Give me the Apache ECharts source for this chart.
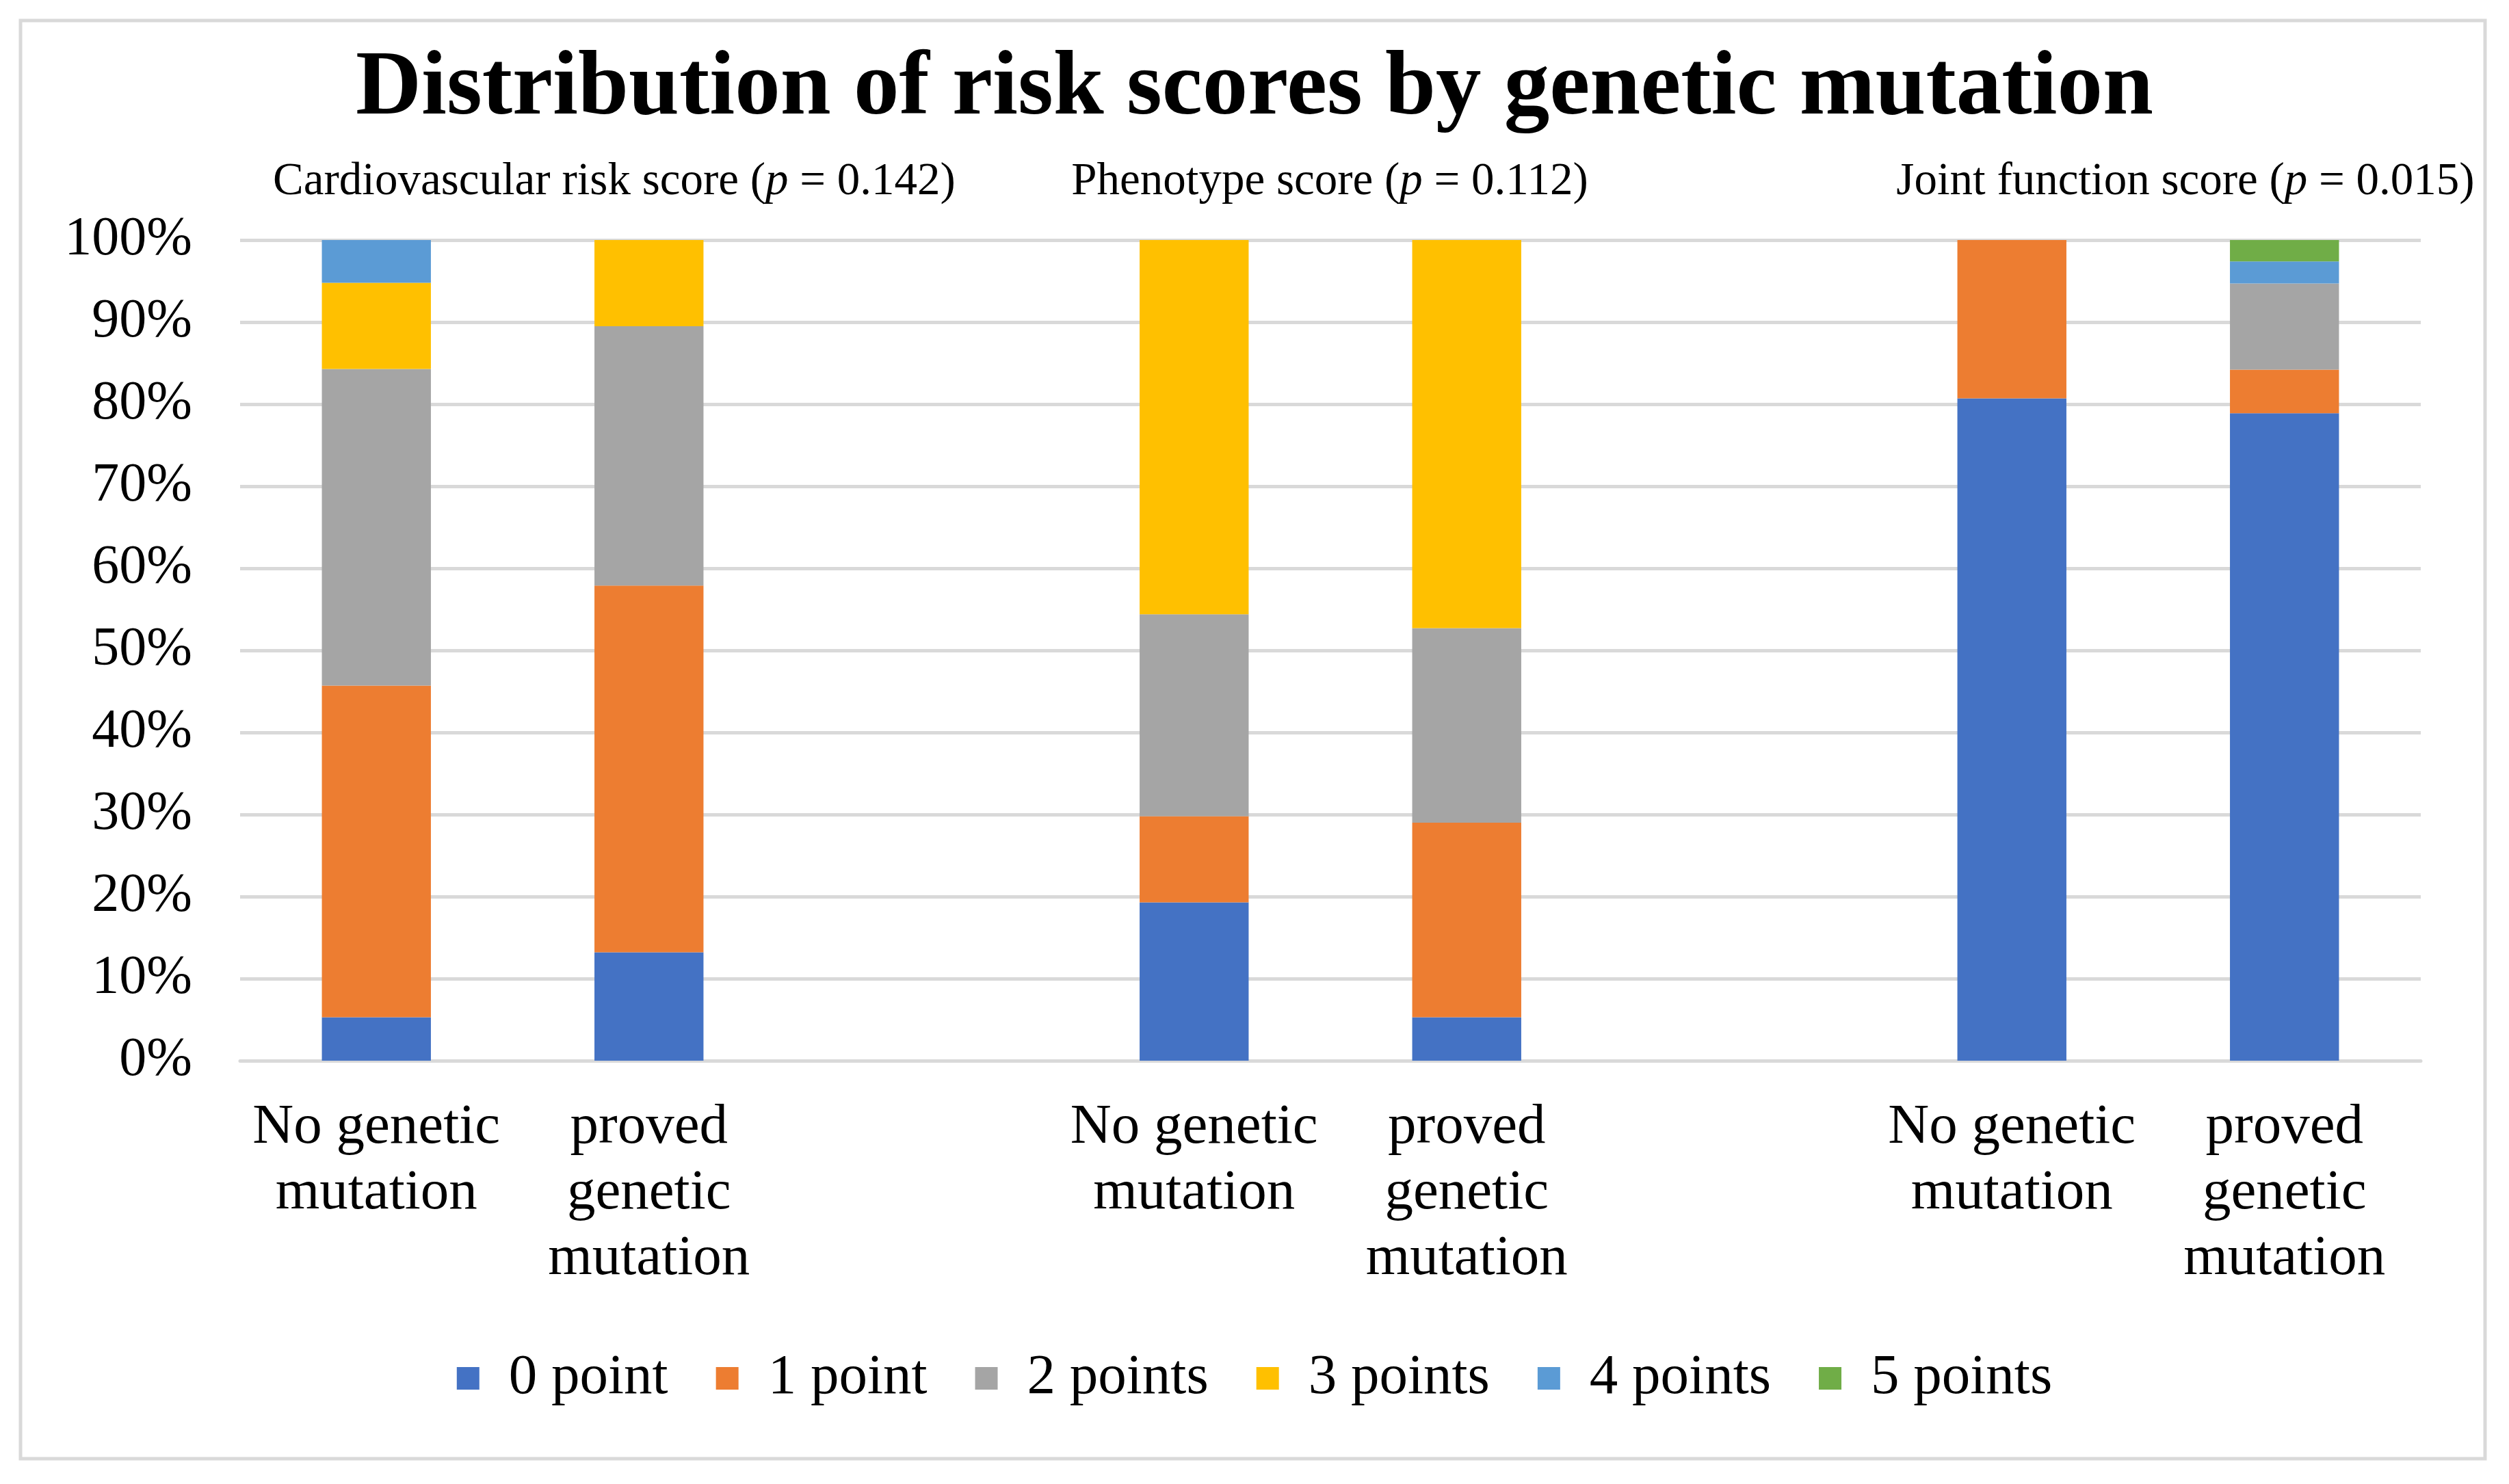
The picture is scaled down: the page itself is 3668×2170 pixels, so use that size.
<!DOCTYPE html>
<html>
<head>
<meta charset="utf-8">
<style>
html,body{margin:0;padding:0;background:#fff;}
#chart{width:3668px;height:2170px;}
</style>
<script src="https://cdn.jsdelivr.net/npm/echarts@6/dist/echarts.min.js"></script>
</head>
<body>
<div id="chart"></div>
<script>
// Categories (empty slots separate the three score groups)
var categories = ['No genetic\nmutation', 'proved\ngenetic\nmutation', '', 'No genetic\nmutation', 'proved\ngenetic\nmutation', '', 'No genetic\nmutation', 'proved\ngenetic\nmutation'];
var seriesNames = ['0 point', '1 point', '2 points', '3 points', '4 points', '5 points'];
// Percentages per category
var point0 = [5.3, 13.2, null, 19.3, 5.3, null, 80.7, 78.9];
var point1 = [40.4, 44.7, null, 10.5, 23.7, null, 19.3, 5.3];
var point2 = [38.6, 31.6, null, 24.6, 23.7, null, 0, 10.5];
var point3 = [10.5, 10.5, null, 45.6, 47.3, null, 0, 0];
var point4 = [5.2, 0, null, 0, 0, null, 0, 2.7];
var point5 = [0, 0, null, 0, 0, null, 0, 2.6];
var yTicks = [0, 10, 20, 30, 40, 50, 60, 70, 80, 90, 100];
var colors = ['#4472C4', '#ED7D31', '#A5A5A5', '#FFC000', '#5B9BD5', '#70AD47'];
var titleText = 'Distribution of risk scores by genetic mutation';
var groupTitles = [
  {name: 'Cardiovascular risk score', p: '0.142'},
  {name: 'Phenotype score', p: '0.112'},
  {name: 'Joint function score', p: '0.015'}
];

var FONT = '"Liberation Serif", "Times New Roman", serif';
var chart = echarts.init(document.getElementById('chart'));
var allData = [point0, point1, point2, point3, point4, point5];
var series = seriesNames.map(function (n, i) {
  return {
    name: n,
    type: 'bar',
    stack: 'total',
    barCategoryGap: '60%',
    itemStyle: {color: colors[i]},
    data: allData[i]
  };
});

var subX = [898, 1944, 3195];
var graphics = groupTitles.map(function (g, i) {
  return {
    type: 'text',
    x: subX[i],
    y: 266,
    style: {
      text: '{n|' + g.name + ' (}{i|p}{n| = ' + g.p + ')}',
      rich: {
        n: {fontFamily: FONT, fontSize: 67, fill: '#000'},
        i: {fontFamily: FONT, fontSize: 67, fontStyle: 'italic', fill: '#000'}
      },
      align: 'center',
      verticalAlign: 'middle',
      fill: '#000'
    }
  };
});
graphics.push({
  type: 'rect',
  shape: {x: 30, y: 30, width: 3603, height: 2103},
  style: {fill: 'none', stroke: '#d9d9d9', lineWidth: 5},
  silent: true,
  z: -1
});

chart.setOption({
  backgroundColor: '#fff',
  animation: false,
  color: colors,
  title: {
    text: titleText,
    left: 'center',
    top: 60,
    textStyle: {fontFamily: FONT, fontSize: 133, fontWeight: 'bold', color: '#000'}
  },
  graphic: graphics,
  legend: {
    data: seriesNames,
    bottom: 108,
    left: 'center',
    itemWidth: 33,
    itemHeight: 33,
    itemGap: 70,
    icon: 'rect',
    textStyle: {fontFamily: FONT, fontSize: 83, color: '#000', padding: [0, 0, 0, 38]}
  },
  grid: {left: 351, right: 129, top: 351, bottom: 619, containLabel: false},
  xAxis: {
    type: 'category',
    data: categories,
    axisLine: {lineStyle: {color: '#d9d9d9', width: 5}},
    axisTick: {show: false},
    axisLabel: {
      interval: 0,
      fontFamily: FONT, fontSize: 83, color: '#000',
      lineHeight: 96, margin: 50, verticalAlign: 'top'
    }
  },
  yAxis: {
    type: 'value',
    min: 0, max: 100, interval: 10,
    axisLine: {show: false},
    axisTick: {show: false},
    splitLine: {lineStyle: {color: '#d9d9d9', width: 5}},
    axisLabel: {
      formatter: '{value}%',
      fontFamily: FONT, fontSize: 80, color: '#000', margin: 70
    }
  },
  series: series
});
</script>
</body>
</html>
